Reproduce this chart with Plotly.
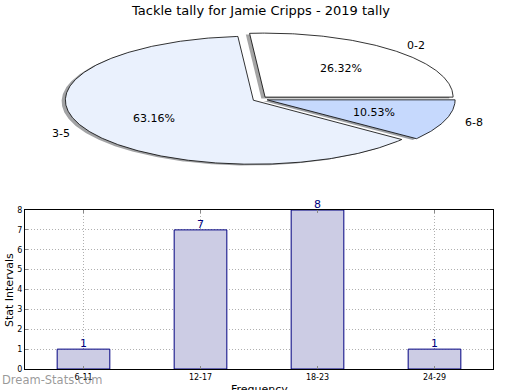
import numpy as np
import plotly.graph_objects as go

title = "Tackle tally for Jamie Cripps - 2019 tally"
pie_labels = ["0-2", "3-5", "6-8"]
pie_counts = [5, 12, 2]
pie_colors = ["#ffffff", "#eaf1fd", "#c6d9fd"]
bar_cats = ["6-11", "12-17", "18-23", "24-29"]
bar_vals = [1, 7, 8, 1]
y_ticks = [0, 1, 2, 3, 4, 5, 6, 7, 8]

W, H = 520, 390
FONT = "DejaVu Sans"
explode = 0.04

# pie axis geometry (pixels)
cx_px, cy_px = 260, 99
rx_px, ry_px = 188, 64
xr = [-cx_px / rx_px, (W - cx_px) / rx_px]
yr = [-(H - cy_px) / ry_px, cy_px / ry_px]

fig = go.Figure()

total = sum(pie_counts)
fracs = [c / total for c in pie_counts]
starts = np.cumsum([0] + fracs[:-1]) * 360
ends = np.cumsum(fracs) * 360


def hex_rgb(h):
    h = h.lstrip("#")
    return [int(h[i:i + 2], 16) for i in (0, 2, 4)]


slices = []
for lab, f, s, e, col in zip(pie_labels, fracs, starts, ends, pie_colors):
    mid = np.deg2rad((s + e) / 2)
    ox, oy = explode * np.cos(mid), explode * np.sin(mid)
    t = np.deg2rad(np.linspace(s, e, max(int(e - s) * 2, 10)))
    xs = np.concatenate([[ox], ox + np.cos(t), [ox]])
    ys = np.concatenate([[oy], oy + np.sin(t), [oy]])
    slices.append((lab, f, mid, ox, oy, xs, ys, col))

# shadows
for lab, f, mid, ox, oy, xs, ys, col in slices:
    r, g, b = [int(0.3 * v) for v in hex_rgb(col)]
    fig.add_trace(go.Scatter(x=xs - 0.02, y=ys - 0.02, mode="lines", fill="toself",
                             fillcolor=f"rgba({r},{g},{b},0.5)", line=dict(width=0),
                             xaxis="x2", yaxis="y2", hoverinfo="skip", showlegend=False))
# wedges
for lab, f, mid, ox, oy, xs, ys, col in slices:
    fig.add_trace(go.Scatter(x=xs, y=ys, mode="lines", fill="toself", fillcolor=col,
                             line=dict(width=0.8, color="#000000"),
                             xaxis="x2", yaxis="y2", hoverinfo="skip", showlegend=False))

annotations = []
for lab, f, mid, ox, oy, xs, ys, col in slices:
    lx, ly = ox + 1.1 * np.cos(mid), oy + 1.1 * np.sin(mid)
    annotations.append(dict(x=lx, y=ly, xref="x2", yref="y2", text=lab, showarrow=False,
                            xanchor="left" if lx > 0 else "right", yanchor="middle",
                            font=dict(family=FONT, size=11, color="black")))
    px, py = ox + 0.6 * np.cos(mid), oy + 0.6 * np.sin(mid)
    annotations.append(dict(x=px, y=py, xref="x2", yref="y2", text=f"{f*100:.2f}%",
                            showarrow=False, xanchor="center", yanchor="middle",
                            font=dict(family=FONT, size=11, color="black")))

# bar chart
fig.add_trace(go.Bar(x=bar_cats, y=bar_vals, width=0.45,
                     marker=dict(color="#ccccE4", line=dict(color="#000080", width=1)),
                     cliponaxis=False, xaxis="x", yaxis="y", showlegend=False,
                     hoverinfo="skip"))
for c, v in zip(bar_cats, bar_vals):
    annotations.append(dict(x=c, y=v, xref="x", yref="y", text=str(v), showarrow=False,
                            xanchor="center", yanchor="bottom", yshift=-3,
                            font=dict(family=FONT, size=11, color="#000080")))

annotations += [
    dict(x=0.5, y=1 - 10 / H, xref="paper", yref="paper", text=title, showarrow=False,
         xanchor="center", yanchor="middle", font=dict(family=FONT, size=13, color="black")),
    dict(x=259 / W, y=(H - 389) / H, xref="paper", yref="paper", text="Frequency",
         showarrow=False, xanchor="center", yanchor="middle",
         font=dict(family=FONT, size=11, color="black")),
    dict(x=9 / W, y=(H - 290) / H, xref="paper", yref="paper", text="Stat Intervals",
         showarrow=False, textangle=-90, xanchor="center", yanchor="middle",
         font=dict(family=FONT, size=11, color="black")),
    dict(x=0, y=(H - 380) / H, xref="paper", yref="paper", text="Dream-Stats.com",
         showarrow=False, xanchor="left", yanchor="middle",
         font=dict(family=FONT, size=11.5, color="rgba(120,120,120,0.75)")),
]

grid = dict(showgrid=True, gridcolor="#b0b0b0", griddash="1px,2px", gridwidth=1)

fig.update_layout(
    width=W, height=H, autosize=False,
    margin=dict(l=0, r=0, t=0, b=0),
    paper_bgcolor="white", plot_bgcolor="rgba(0,0,0,0)",
    font=dict(family=FONT, color="black"),
    annotations=annotations,
    hovermode=False,
    xaxis=dict(domain=[25 / W, 493 / W], range=[-0.5, 3.5], showline=True, linecolor="black",
               linewidth=1, mirror="allticks", ticks="inside", ticklen=3, tickcolor="#888888",
               tickfont=dict(size=8), automargin=False, fixedrange=True, zeroline=False,
               **grid),
    yaxis=dict(domain=[(H - 369) / H, (H - 210) / H], range=[0, 8], tickvals=y_ticks,
               showline=True, linecolor="black", linewidth=1, mirror="allticks",
               ticks="inside", ticklen=3, tickcolor="#888888", tickfont=dict(size=8),
               automargin=False, fixedrange=True, zeroline=False, **grid),
    xaxis2=dict(domain=[0, 1], range=xr, visible=False, fixedrange=True),
    yaxis2=dict(domain=[0, 1], range=yr, visible=False, fixedrange=True),
)

fig.write_html("out.html", config={"displayModeBar": False},
               post_script="document.body.style.margin='0';document.body.style.padding='0';")
